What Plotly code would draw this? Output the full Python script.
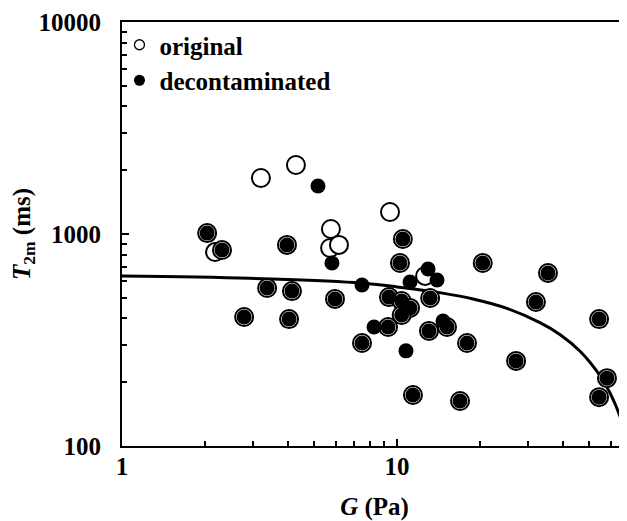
import plotly.graph_objects as go

# ---- data ----
# original samples (open circles)
original_G = [3.20, 4.29, 5.75, 5.71, 6.15, 9.43, 2.18, 12.65,
              2.04, 2.31, 3.98, 3.37, 4.15, 2.78, 4.05, 5.95, 10.5, 10.25, 20.5,
              9.35, 10.4, 11.15, 10.4, 13.2, 9.28, 13.07, 15.2, 7.46, 17.97,
              11.43, 16.95, 35.4, 32.0, 54.3, 58.0, 54.3, 27.1]
original_T2m = [1837, 2116, 1056, 859, 888, 1270, 822, 634,
                1010, 840, 888, 556, 538, 406, 397, 494, 947, 730, 730,
                504, 483, 448, 415, 499, 364, 349, 364, 306, 306,
                174, 163, 655, 478, 397, 209, 170, 252]

# decontaminated samples (filled circles)
decon_G = [2.04, 2.31, 3.98, 3.37, 4.15, 2.78, 4.05, 5.95, 10.5, 10.25, 20.5,
           9.35, 10.4, 11.15, 10.4, 13.2, 9.28, 13.07, 15.2, 7.46, 17.97,
           11.43, 16.95, 35.4, 32.0, 54.3, 58.0, 54.3, 27.1,
           5.16, 5.80, 7.46, 8.25, 14.7, 10.78, 11.15, 13.98, 12.97]
decon_T2m = [1010, 840, 888, 556, 538, 406, 397, 494, 947, 730, 730,
             504, 483, 448, 415, 499, 364, 349, 364, 306, 306,
             174, 163, 655, 478, 397, 209, 170, 252,
             1684, 730, 575, 364, 389, 281, 594, 607, 684]

# fitted curve
fit_G = [1.0, 2.9, 7.0, 10.0, 14.3, 18.9, 25.1, 33.1, 39.1, 46.3, 54.7, 59.5, 64.7, 68.0, 69.5]
fit_T2m = [633, 618, 590, 563, 529, 494, 446, 382, 336, 280, 215, 178, 138, 112, 98]

x_major = [1, 10]
x_major_text = ["1", "10"]
x_minor = [2, 3, 4, 5, 6, 7, 8, 9, 20, 30, 40, 50, 60]
y_major = [100, 1000, 10000]
y_major_text = ["100", "1000", "10000"]
y_minor = [200, 300, 400, 500, 600, 700, 800, 900,
           2000, 3000, 4000, 5000, 6000, 7000, 8000, 9000]

FONT = "Liberation Serif, Times New Roman, serif"
FS = 25

fig = go.Figure()

fig.add_trace(go.Scatter(
    x=fit_G, y=fit_T2m, mode="lines", line=dict(color="black", width=3, shape="spline", smoothing=1.0),
    showlegend=False, hoverinfo="skip"))

fig.add_trace(go.Scatter(
    x=original_G, y=original_T2m, mode="markers", name="original",
    marker=dict(symbol="circle", size=18, color="white", line=dict(color="black", width=2)),
    showlegend=False))

fig.add_trace(go.Scatter(
    x=decon_G, y=decon_T2m, mode="markers", name="decontaminated",
    marker=dict(symbol="circle", size=15, color="black", line=dict(width=0)),
    showlegend=False))

# legend entries
fig.add_trace(go.Scatter(
    x=[None], y=[None], mode="markers", name="original",
    marker=dict(symbol="circle", size=10, color="white", line=dict(color="black", width=1.3))))
fig.add_trace(go.Scatter(
    x=[None], y=[None], mode="markers", name="decontaminated",
    marker=dict(symbol="circle", size=11, color="black", line=dict(width=0))))

tickfont = dict(family=FONT, size=FS, color="black", weight="bold")

fig.update_xaxes(
    type="log", range=[0, 1.8363],
    showline=True, linecolor="black", linewidth=2, mirror=True,
    showgrid=False, zeroline=False,
    tickmode="array", tickvals=x_major, ticktext=x_major_text,
    ticks="inside", ticklen=7, tickwidth=2, tickcolor="black",
    minor=dict(tickmode="array", tickvals=x_minor, ticks="inside", ticklen=5,
               tickwidth=1.5, tickcolor="black", showgrid=False),
    tickfont=tickfont, ticklabelstandoff=-3,
    title=dict(text="<i>G</i> (Pa)", font=dict(family=FONT, size=FS, color="black", weight="bold"),
               standoff=19),
)
fig.update_yaxes(
    type="log", range=[2, 4],
    showline=True, linecolor="black", linewidth=2, mirror=False,
    showgrid=False, zeroline=False,
    tickmode="array", tickvals=y_major, ticktext=y_major_text,
    ticks="inside", ticklen=7, tickwidth=2, tickcolor="black",
    minor=dict(tickmode="array", tickvals=y_minor, ticks="inside", ticklen=5,
               tickwidth=1.5, tickcolor="black", showgrid=False),
    tickfont=tickfont, ticklabelstandoff=14,
    title=dict(text="<i>T</i><sub>2m</sub> (ms)", font=dict(family=FONT, size=FS, color="black", weight="bold"),
               standoff=6),
)

fig.update_layout(
    width=619, height=513,
    margin=dict(l=114, r=0, t=14, b=75, autoexpand=False),
    plot_bgcolor="white", paper_bgcolor="white",
    font=dict(family=FONT, color="black"),
    legend=dict(x=-0.005, y=1.0, xanchor="left", yanchor="top",
                bgcolor="rgba(0,0,0,0)", borderwidth=0,
                font=dict(family=FONT, size=FS, color="black", weight="bold"),
                itemwidth=30, tracegroupgap=0),
)

fig.write_html("out.html")
